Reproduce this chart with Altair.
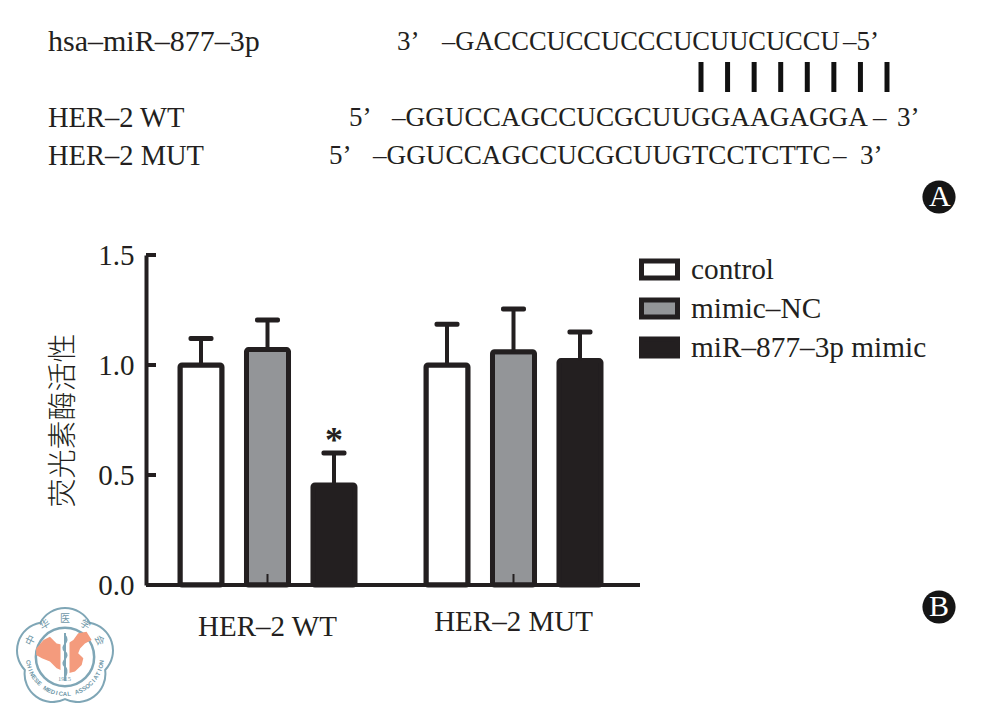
import math
import altair as alt
import pandas as pd

INK = "#231f20"
GRAY = "#939598"
SERIF = "Liberation Serif"
CJK = "Noto Sans CJK SC"
TEAL = "#7fa6b6"
SALMON = "#f49b7d"

# ---- bar data
groups = ["HER-2 WT", "HER-2 MUT"]
group_labels = ["HER–2 WT", "HER–2 MUT"]
label_heights = [-0.19, -0.167]
treatments = ["control", "mimic–NC", "miR–877–3p mimic"]
colors = ["#ffffff", GRAY, INK]
bar_group = ["HER-2 WT"] * 3 + ["HER-2 MUT"] * 3
bar_treat = treatments * 2
bar_value = [1.00, 1.07, 0.455, 1.00, 1.06, 1.02]
bar_upper = [1.12, 1.205, 0.60, 1.185, 1.255, 1.15]
y_ticks = [0.5, 1.0, 1.5]

# ---- sequence panel text
name_rows = ["hsa–miR–877–3p", "HER–2 WT", "HER–2 MUT"]
seq_prefix = ["3’", "5’", "5’"]
seq_body = ["–GACCCUCCUCCCUCUUCUCCU", "–GGUCCAGCCUCGCUUGGAAGAGGA", "–GGUCCAGCCUCGCUUGTCCTCTTC"]
seq_suffix = ["–5’", "–", "–"]
seq_end = ["", "3’", "3’"]
pair_index = list(range(1, 9))

bars = pd.DataFrame({"group": bar_group, "treat": bar_treat, "value": bar_value, "upper": bar_upper})

x_scale = alt.Scale(domain=groups, range=[-1.5, 490.5], paddingInner=0, paddingOuter=0)
off_scale = alt.Scale(domain=treatments, paddingInner=0.368, paddingOuter=0.534)
X = alt.X("group:N", scale=x_scale, axis=None)
XO = alt.XOffset("treat:N", scale=off_scale)
y_scale = alt.Scale(domain=[0, 1.5], nice=False)

bar_layer = alt.Chart(bars).mark_bar(stroke=INK, strokeWidth=5, cornerRadius=2).encode(
    x=X, xOffset=XO,
    y=alt.Y("value:Q", scale=y_scale, axis=alt.Axis(
        values=[0, 0.5, 1.0, 1.5], format=".1f", ticks=False, grid=False,
        domainColor=INK, domainWidth=4, labelFont=SERIF, labelFontSize=29, labelColor=INK,
        labelPadding=12, title="荧光素酶活性", titleFont=CJK, titleFontSize=29,
        titleFontWeight=300, titleColor=INK, titleAngle=270, titleX=-68, titleY=165,
    )),
    fill=alt.Fill("treat:N", scale=alt.Scale(domain=treatments, range=colors), legend=alt.Legend(
        title=None, orient="none", legendX=493, legendY=-6, padding=0,
        symbolType="M-1,-0.47H1V0.47H-1Z", symbolSize=1296, symbolStrokeWidth=5,
        symbolStrokeColor=INK, labelFont=SERIF, labelFontSize=29.3, labelColor=INK,
        labelOffset=11, rowPadding=-1, labelLimit=400,
    )),
)
err_stem = alt.Chart(bars).mark_rule(stroke=INK, strokeWidth=4).encode(
    x=X, xOffset=XO, y=alt.Y("value:Q", scale=y_scale), y2="upper:Q")
err_cap = alt.Chart(bars).mark_tick(color=INK, size=25, thickness=5, cornerRadius=2, orient="horizontal", opacity=1).encode(
    x=X, xOffset=XO, y=alt.Y("upper:Q", scale=y_scale))

# inward ticks
tick_y = alt.Chart(pd.DataFrame({"v": y_ticks})).mark_rule(stroke=INK, strokeWidth=4).encode(
    x=alt.value(0), x2=alt.value(10), y=alt.Y("v:Q", scale=y_scale))
tick_x = alt.Chart(pd.DataFrame({"group": groups, "lo": [0, 0], "hi": [0.05, 0.05]})).mark_rule(stroke=INK, strokeWidth=2).encode(
    x=X, y=alt.Y("lo:Q", scale=y_scale), y2="hi:Q")
baseline = alt.Chart(pd.DataFrame({"lo": [0]})).mark_rule(stroke=INK, strokeWidth=4).encode(
    x=alt.value(0), x2=alt.value(494), y=alt.Y("lo:Q", scale=y_scale))

x_labels = alt.Chart(pd.DataFrame({"group": groups, "t": group_labels, "h": label_heights})).mark_text(
    font=SERIF, fontSize=29, color=INK, baseline="middle").encode(
    x=X, y=alt.Y("h:Q", scale=y_scale), text="t:N")

star = alt.Chart(pd.DataFrame({"group": ["HER-2 WT"], "treat": [treatments[2]], "h": [0.655], "t": ["*"]})).mark_text(
    font=SERIF, fontSize=36, fontWeight="bold", color=INK, baseline="middle").encode(
    x=X, xOffset=XO, y=alt.Y("h:Q", scale=y_scale), text="t:N")

# ---- sequence panel (positions are relative to the plot area)
def label(txt, px, py, size, col=INK, **kw):
    return alt.Chart(pd.DataFrame({"t": [txt]})).mark_text(
        font=SERIF, fontSize=size, color=col, align="left", baseline="middle", **kw
    ).encode(x=alt.value(px - 146), y=alt.value(py - 255), text="t:N")

panel = [
    label(name_rows[0], 48, 42, 30),
    label(name_rows[1], 48, 118, 28.5),
    label(name_rows[2], 48, 156, 28.5),
    label(seq_prefix[0], 397, 42, 27),
    label(seq_body[0], 442, 42, 26.5),
    label(seq_suffix[0], 843, 42, 27),
    label(seq_prefix[1], 349, 118, 27),
    label(seq_body[1], 392, 118, 27.2),
    label(seq_suffix[1], 873, 118, 27),
    label(seq_end[1], 897, 118, 27),
    label(seq_prefix[2], 329, 156, 27),
    label(seq_body[2], 373, 156, 27.2),
    label(seq_suffix[2], 833, 156, 27),
    label(seq_end[2], 860, 156, 27),
]
pairs = alt.Chart(pd.DataFrame({"i": pair_index})).mark_rule(stroke="#111111", strokeWidth=5).encode(
    x=alt.X("i:Q", scale=alt.Scale(domain=[1, 8], range=[555, 741]), axis=None),
    y=alt.value(62 - 255), y2=alt.value(92 - 255))

def badge(letter, px, py):
    dot = alt.Chart(pd.DataFrame({"t": [letter]})).mark_point(
        shape="circle", filled=True, color="#151515", size=1100, opacity=1
    ).encode(x=alt.value(px - 146), y=alt.value(py - 255))
    return [dot, label(letter, px - 10, py, 30, "#ffffff")]

# ---- emblem
CX, CY = 65 - 146, 657 - 255
FLOWER = ("M0.529,-0.728A0.6,0.6 0 0 1 0.856,0.278A0.6,0.6 0 0 1 0,0.9"
          "A0.6,0.6 0 0 1 -0.856,0.278A0.6,0.6 0 0 1 -0.529,-0.728A0.6,0.6 0 0 1 0.529,-0.728Z")
CHINA = ("M-1.07,-0.32L-0.8,-0.63L-0.56,-0.75L-0.31,-0.5L0,-0.44L0.31,-0.63L0.49,-0.88L0.8,-0.94"
         "L0.99,-0.63L0.74,-0.5L0.56,-0.32L0.49,-0.14L0.68,0.05L0.62,0.3L0.37,0.54L0.12,0.6"
         "L-0.31,0.42L-0.56,0.17L-0.86,0.05L-1.07,-0.07Z")
SNAKE = "M0,-1C0.3,-0.7 -0.3,-0.5 0,-0.25C0.3,0 -0.3,0.2 0,0.45C0.2,0.65 0,0.85 0,1"
ROD = "M0,-1L0,1"

def emblem_shape(shape, size, **kw):
    return alt.Chart(pd.DataFrame({"t": [1]})).mark_point(shape=shape, size=size, opacity=1, **kw).encode(
        x=alt.value(CX), y=alt.value(CY))

emblem = [
    emblem_shape(FLOWER, 8800, stroke=TEAL, strokeWidth=2, fill="#ffffff", fillOpacity=1),
    emblem_shape("circle", 3400, stroke=TEAL, strokeWidth=2.5, fill="#ffffff", fillOpacity=1),
    emblem_shape(CHINA, 2900, fill=SALMON, fillOpacity=1, strokeWidth=0),
    emblem_shape(ROD, 2300, stroke="#ffffff", strokeWidth=9),
    emblem_shape(ROD, 2300, stroke=TEAL, strokeWidth=2),
    emblem_shape(SNAKE, 1900, stroke=TEAL, strokeWidth=1.5),
]

def arc_text(chars, radius, start, step, size, font, weight, flip=False):
    rows = []
    for k, ch in enumerate(chars):
        a = math.radians(start + k * step)
        rows.append({
            "c": ch,
            "px": CX + radius * math.sin(a),
            "py": CY - radius * math.cos(a),
            "ang": (math.degrees(a) + (180 if flip else 0)) % 360,
        })
    return alt.Chart(pd.DataFrame(rows)).mark_text(
        fontSize=size, color="#6f97a8", baseline="middle", fontWeight=weight, font=font,
    ).encode(
        x=alt.X("px:Q", scale=None, axis=None),
        y=alt.Y("py:Q", scale=None, axis=None),
        angle=alt.Angle("ang:Q", scale=None),
        text="c:N",
    )

emblem_text = [
    arc_text("中华医学会", 38, -64, 32, 10, CJK, "normal"),
    arc_text("CHINESE MEDICAL ASSOCIATION", 37, 262, -6.3, 6, "Liberation Sans", "bold", flip=True),
    label("1915", 58, 679, 6.5, "#6f97a8"),
]

layers = (
    [bar_layer, tick_x, err_stem, err_cap, tick_y, baseline, x_labels, star]
    + panel + [pairs] + badge("A", 939, 197) + badge("B", 939, 607)
    + emblem + emblem_text
)

chart = alt.layer(*layers).resolve_scale(x="independent").properties(
    width=494, height=330,
    padding={"left": 138, "top": 247, "right": 335, "bottom": 118},
    autosize=alt.AutoSizeParams(type="none"),
    background="#ffffff",
).configure_view(stroke=None)

chart.save("out.html", embed_options={"renderer": "svg", "actions": False})
